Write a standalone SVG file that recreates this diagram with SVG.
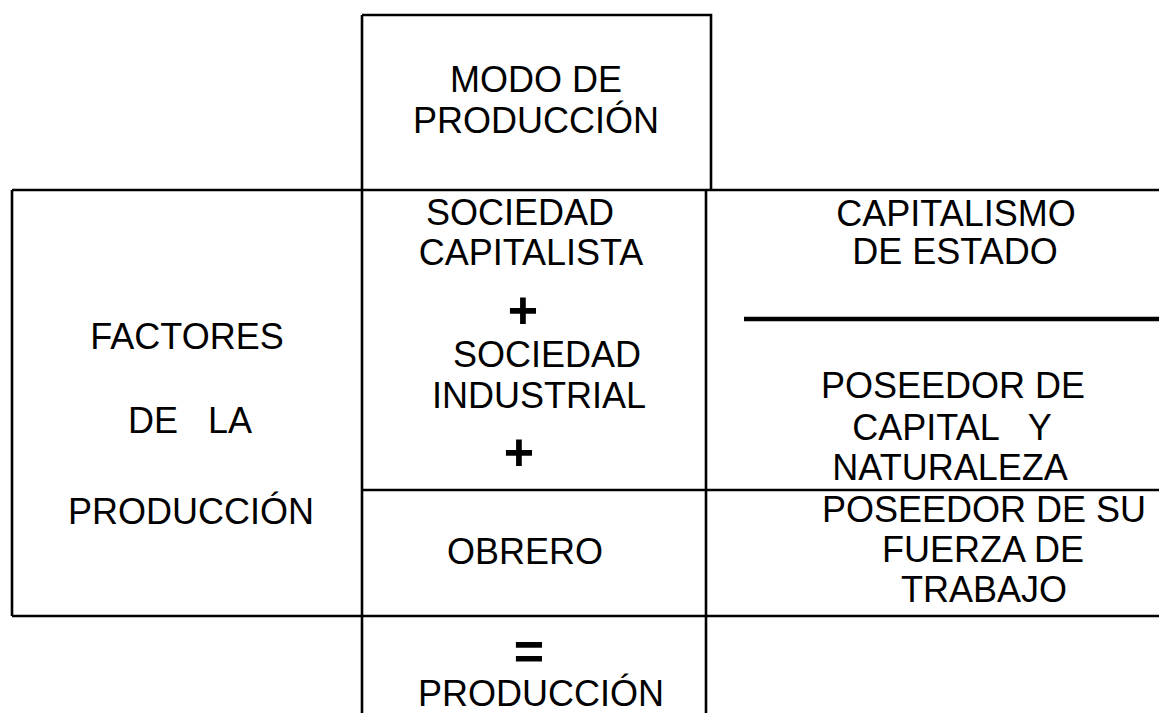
<svg xmlns="http://www.w3.org/2000/svg" width="1159" height="713" viewBox="0 0 1159 713">
<style>
.t{font-family:"Liberation Sans",Arial,sans-serif;font-size:36px;fill:#000;text-anchor:middle}
.op{font-family:"Liberation Sans",Arial,sans-serif;font-size:52px;font-weight:bold;fill:#000;text-anchor:middle}
.ln{stroke:#000;stroke-width:2.6;fill:none}
.thick{stroke:#000;stroke-width:4.4;fill:none}
</style>
<rect width="1159" height="713" fill="#fff"/>
<g id="lines">
<path class="ln" d="M362,15 H711 V190"/>
<path class="ln" d="M12,190 H1159 M12,190 V616 M12,616 H1159 M362,15 V713 M706,190 V713 M362,490 H1159"/>
<path class="thick" d="M744,319 H1159"/>
</g>
<g id="modo">
<text class="t" x="536" y="92">MODO DE</text>
<text class="t" x="536" y="133">PRODUCCIÓN</text>
</g>
<g id="factores">
<text class="t" x="187" y="349">FACTORES</text>
<text class="t" x="190" y="433" xml:space="preserve">DE   LA</text>
<text class="t" x="191" y="524">PRODUCCIÓN</text>
</g>
<g id="sociedades">
<text class="t" x="520" y="225">SOCIEDAD</text>
<text class="t" x="531" y="265">CAPITALISTA</text>
<text class="op" x="523" y="328">+</text>
<text class="t" x="547" y="367">SOCIEDAD</text>
<text class="t" x="539" y="408">INDUSTRIAL</text>
<text class="op" x="519" y="470">+</text>
</g>
<g id="capitalismo">
<text class="t" x="956" y="226">CAPITALISMO</text>
<text class="t" x="955" y="264">DE ESTADO</text>
</g>
<g id="poseedor-capital">
<text class="t" x="953" y="398">POSEEDOR DE</text>
<text class="t" x="952" y="440" xml:space="preserve">CAPITAL   Y</text>
<text class="t" x="950" y="480">NATURALEZA</text>
</g>
<g id="obrero">
<text class="t" x="525" y="564">OBRERO</text>
</g>
<g id="poseedor-fuerza">
<text class="t" x="984" y="522">POSEEDOR DE SU</text>
<text class="t" x="983" y="562">FUERZA DE</text>
<text class="t" x="984" y="602">TRABAJO</text>
</g>
<g id="produccion">
<text class="op" x="529" y="669">=</text>
<text class="t" x="541" y="706">PRODUCCIÓN</text>
</g>
</svg>
